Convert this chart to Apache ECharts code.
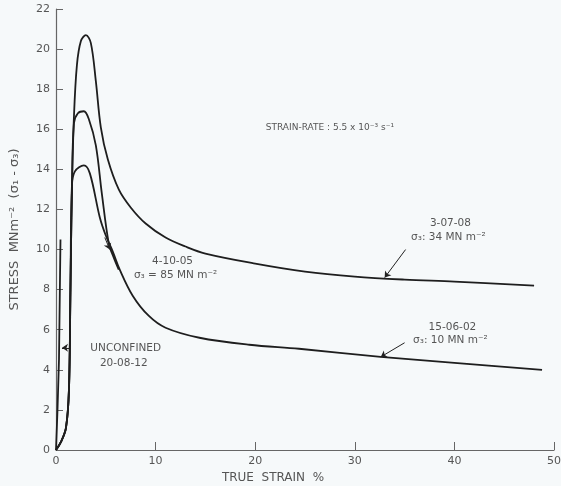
<!DOCTYPE html>
<html><head><meta charset="utf-8">
<script src="https://cdn.jsdelivr.net/npm/echarts@6/dist/echarts.min.js"></script>
<style>html,body{margin:0;padding:0;background:#f6f9fa;}#c{width:561px;height:486px;}</style>
</head><body><div id="c"></div>
<script>
// Data (true strain %, stress MN m^-2)
const curve_3_07_08 = [[0,0],[0.5,0.4],[1.0,1.1],[1.3,3],[1.45,8],[1.6,13],[1.8,16.6],[2.1,19.2],[2.5,20.4],[3.0,20.7],[3.5,20.3],[4.0,18.4],[4.5,16.1],[5.2,14.5],[6.3,13.0],[7.5,12.1],[9,11.3],[11,10.6],[13,10.15],[15,9.8],[20,9.3],[25,8.9],[30,8.65],[35,8.5],[40,8.4],[48,8.2]];
const curve_4_10_05 = [[0,0],[0.5,0.4],[1.0,1.1],[1.3,3],[1.45,8],[1.6,13],[1.8,16.3],[2.2,16.8],[2.8,16.9],[3.3,16.5],[4.0,15.2],[4.6,12.8],[5.3,10.3],[5.8,9.6],[6.3,9.0]];
const curve_15_06_02 = [[0,0],[0.5,0.4],[1.0,1.1],[1.3,3],[1.45,8],[1.6,13.2],[1.9,13.9],[2.8,14.2],[3.4,13.8],[4.4,11.6],[5.0,10.7],[5.7,9.9],[6.4,9.0],[7.7,7.7],[9.3,6.7],[11,6.1],[14.4,5.6],[19.4,5.25],[24.4,5.05],[32.6,4.65],[40,4.35],[48.8,4.0]];
const curve_20_08_12 = [[0,0],[0.15,2],[0.3,4.5],[0.45,10.5]];

const xTicks = [0,10,20,30,40,50];
const yTicks = [0,2,4,6,8,10,12,14,16,18,20,22];

// annotations: [x, y, text]
const labels = [
  [27.5,16.1,'STRAIN-RATE : 5.5 x 10⁻³ s⁻¹'],
  [39.6,11.3,'3-07-08'],
  [39.4,10.6,'σ₃: 34 MN m⁻²'],
  [39.8,6.1,'15-06-02'],
  [39.6,5.45,'σ₃: 10 MN m⁻²'],
  [11.7,9.4,'4-10-05'],
  [12.0,8.7,'σ₃ = 85 MN m⁻²'],
  [7.0,5.1,'UNCONFINED'],
  [6.8,4.35,'20-08-12']
];
// arrows: [x1,y1,x2,y2]
const arrows = [
  [35.1,10.0,33.0,8.6],
  [35.0,5.35,32.6,4.64],
  [1.4,5.1,0.6,5.1],
  [4.9,10.6,5.4,10.0]
];

const lineStyle = {color:'#1e1e1e', width:1.8};
const txtColor = '#555';
function mk(name, data, extra){
  return Object.assign({type:'line', name, data, showSymbol:false, smooth:0.35,
    lineStyle, itemStyle:{color:'#1e1e1e'}, silent:true}, extra||{});
}
const chart = echarts.init(document.getElementById('c'));
chart.setOption({
  animation:false,
  backgroundColor:'#f6f9fa',
  grid:{left:56, right:7, top:9, bottom:36, containLabel:false, outerBoundsMode:'none'},
  xAxis:{type:'value', min:0, max:50, interval:10,
    name:'TRUE  STRAIN  %', nameLocation:'middle', nameGap:21,
    nameTextStyle:{color:txtColor, fontSize:12, fontFamily:'DejaVu Sans', padding:[0,64,0,0]},
    axisLine:{lineStyle:{color:'#666', width:1.2}},
    axisTick:{inside:true, length:8, lineStyle:{color:'#666'}},
    axisLabel:{color:txtColor, fontSize:11, fontFamily:'DejaVu Sans', margin:6},
    splitLine:{show:false}},
  yAxis:{type:'value', min:0, max:22, interval:2,
    name:'STRESS  MNm⁻²  (σ₁ - σ₃)', nameLocation:'middle', nameGap:35, nameRotate:90,
    nameTextStyle:{color:txtColor, fontSize:13, fontFamily:'DejaVu Sans'},
    axisLine:{show:true, lineStyle:{color:'#666', width:1.2}},
    axisTick:{show:true, inside:true, length:7, lineStyle:{color:'#666'}},
    axisLabel:{color:txtColor, fontSize:11, fontFamily:'DejaVu Sans', margin:6},
    splitLine:{show:false}},
  series:[
    mk('3-07-08', curve_3_07_08, {
      markPoint:{silent:true, symbol:'circle', symbolSize:0,
        data: labels.map((l,i)=>({coord:[l[0],l[1]], label:{show:true, position:'inside', formatter:l[2], color:txtColor, fontSize: i===0?9:10.5, fontFamily:'DejaVu Sans'}}))},
      markLine:{silent:true, symbol:['none','arrow'], symbolSize:6, label:{show:false},
        lineStyle:{color:'#222', width:1, type:'solid'},
        data: arrows.map(a=>[{coord:[a[0],a[1]]},{coord:[a[2],a[3]]}])}
    }),
    mk('4-10-05', curve_4_10_05),
    mk('15-06-02', curve_15_06_02),
    mk('20-08-12', curve_20_08_12, {smooth:false})
  ]
});
</script></body></html>
